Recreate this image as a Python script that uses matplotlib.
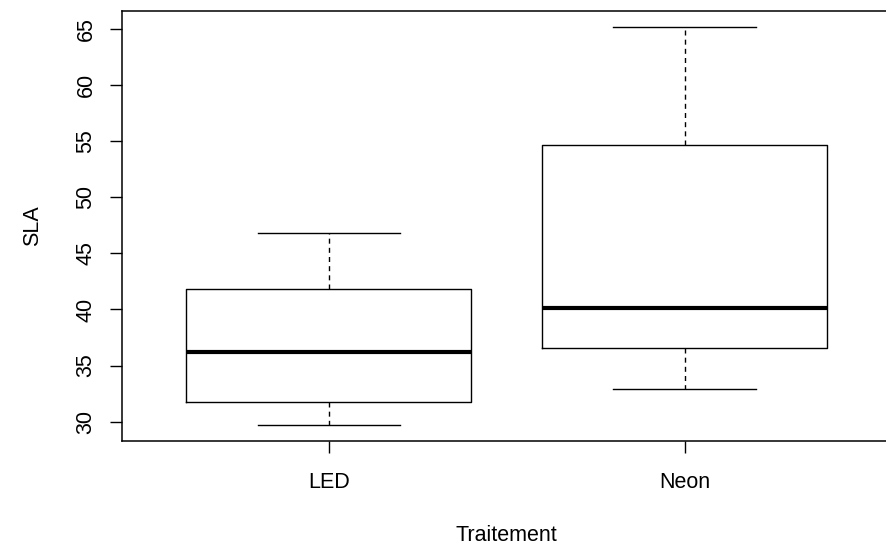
import matplotlib
matplotlib.use("Agg")
import matplotlib.pyplot as plt

# boxplot summary for each treatment
groups = ["LED", "Neon"]
whisk_lo = [29.73, 32.94]
q1 = [31.73, 36.60]
medians = [36.19, 40.13]
q3 = [41.83, 54.66]
whisk_hi = [46.84, 65.20]
yticks = [30, 35, 40, 45, 50, 55, 60, 65]

plt.rcParams['font.family'] = ['Liberation Sans', 'DejaVu Sans']
plt.rcParams['font.size'] = 15.5

fig = plt.figure(figsize=(8.87, 5.46), dpi=100)
ax = fig.add_axes([122.3/887, 1-440.7/546, 768.6/887, 430.0/546])

stats = []
for i in range(len(groups)):
    stats.append(dict(label=groups[i], whislo=whisk_lo[i], q1=q1[i], med=medians[i],
                      q3=q3[i], whishi=whisk_hi[i], fliers=[]))

ax.bxp(stats, positions=[1, 2], widths=0.8, showfliers=False,
       boxprops=dict(color='black', linewidth=1.0),
       medianprops=dict(color='black', linewidth=3.0, solid_capstyle='butt'),
       whiskerprops=dict(color='black', linewidth=1.0, linestyle=(0, (3.6, 3.0))),
       capprops=dict(color='black', linewidth=1.0),
       capwidths=0.4)

# R style limits: 4% padding
lo = min(whisk_lo)
hi = max(whisk_hi)
pad = 0.04*(hi-lo)
ax.set_ylim(lo-pad, hi+pad)
ax.set_xlim(0.42, 2.58)

ax.set_yticks(yticks)
ax.set_xticks([1, 2])
ax.set_xticklabels(groups)
ax.tick_params(axis='y', labelrotation=90, length=8.6, width=1.0, pad=10)
ax.tick_params(axis='x', length=8.6, width=1.0, pad=13.8)
for lab in ax.get_yticklabels():
    lab.set_va('center')
for s in ax.spines.values():
    s.set_linewidth(1.1)

fig.text(506.6/887, 1-535.5/546, "Traitement", ha='center', va='center')
fig.text(32.5/887, 1-225.7/546, "SLA", ha='center', va='center', rotation=90)

fig.savefig("out.png", dpi=100)
